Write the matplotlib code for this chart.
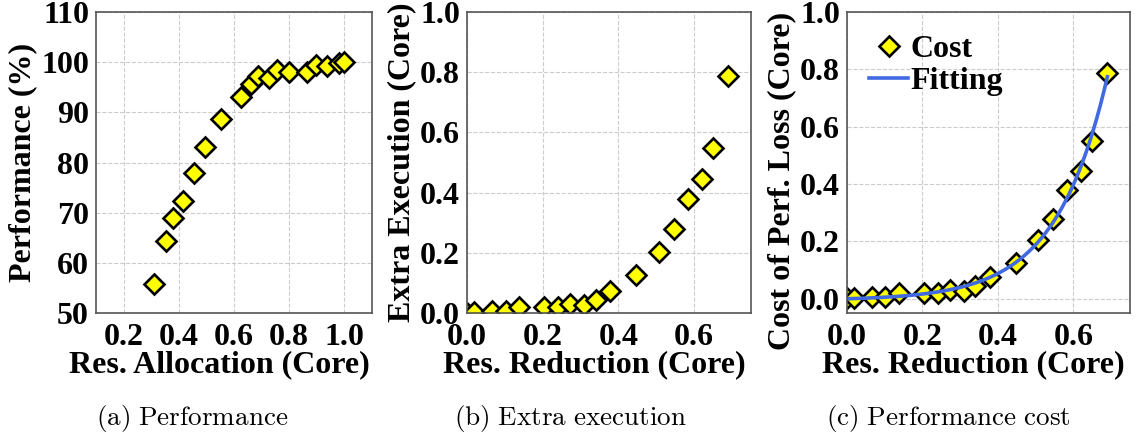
import matplotlib
matplotlib.use('Agg')
import matplotlib.pyplot as plt
import numpy as np

plt.rcParams['font.family'] = ['Liberation Serif', 'DejaVu Serif']
plt.rcParams['font.weight'] = 'bold'
plt.rcParams['axes.labelweight'] = 'bold'
plt.rcParams['mathtext.fontset'] = 'cm'

# (a) performance vs. allocated cores
alloc = [0.309, 0.355, 0.378, 0.416, 0.455, 0.495, 0.552, 0.624, 0.662, 0.688,
         0.725, 0.755, 0.798, 0.865, 0.897, 0.937, 0.982, 1.0]
perf = [55.8, 64.4, 68.9, 72.3, 78.0, 83.0, 88.6, 93.0, 95.6, 97.2,
        96.9, 98.4, 98.0, 98.0, 99.4, 99.3, 99.8, 100.0]

# (b)/(c) extra execution vs. resource reduction
reduction = [0.0, 0.019, 0.065, 0.102, 0.138, 0.203, 0.241, 0.272, 0.309, 0.340,
             0.378, 0.447, 0.506, 0.546, 0.584, 0.621, 0.649, 0.690]
extra = [0.001, 0.003, 0.005, 0.005, 0.019, 0.019, 0.019, 0.029, 0.027, 0.043,
         0.074, 0.126, 0.204, 0.278, 0.379, 0.445, 0.549, 0.787]

captions = ['(a) Performance', '(b) Extra execution', '(c) Performance cost']
caption_x = [192, 570, 948]

W, H = 1136, 438
fig = plt.figure(figsize=(W / 100, H / 100), dpi=100)

def px_axes(left, right, top, bottom):
    return fig.add_axes([left / W, (H - bottom) / H, (right - left) / W, (bottom - top) / H])

ax1 = px_axes(96, 372, 12, 313)
ax2 = px_axes(467, 751, 12, 313)
ax3 = px_axes(847, 1130, 12, 313)

mk = dict(marker='D', ms=10, mfc='yellow', mec='black', mew=1.9, ls='none')

ax1.plot(alloc, perf, **mk)
ax1.set_xlim(0.1, 1.1)
ax1.set_ylim(50, 110)
ax1.set_xticks([0.2, 0.4, 0.6, 0.8, 1.0])
ax1.set_yticks(range(50, 111, 10))
ax1.set_xlabel('Res. Allocation (Core)')
ax1.set_ylabel('Performance (%)')

ax2.plot(reduction, extra, **mk)
ax2.set_xlim(0, 0.75)
ax2.set_ylim(0, 1.0)
ax2.set_xlabel('Res. Reduction (Core)')
ax2.set_ylabel('Extra Execution (Core)')

# exponential fit y = a*exp(b*x) + c
xr = np.array(reduction)
yr = np.array(extra)
best = None
for b in np.linspace(1, 15, 561):
    A = np.column_stack([np.exp(b * xr), np.ones_like(xr)])
    coef = np.linalg.lstsq(A, yr, rcond=None)[0]
    err = np.sum((A @ coef - yr) ** 2)
    if best is None or err < best[0]:
        best = (err, b, coef)
_, b_fit, (a_fit, c_fit) = best
xs = np.linspace(0, max(reduction), 200)

ax3.plot(reduction, extra, label='Cost', **mk)
ax3.plot(xs, a_fit * np.exp(b_fit * xs) + c_fit, color='royalblue', lw=2.6, label='Fitting')
ax3.set_xlim(0, 0.75)
ax3.set_ylim(-0.05, 1.0)
ax3.set_xlabel('Res. Reduction (Core)')
ax3.set_ylabel('Cost of Perf. Loss (Core)')
ax3.legend(loc='upper left', frameon=False, prop={'size': 23, 'weight': 'bold'},
           handlelength=1.2, handletextpad=0.1, borderaxespad=0.3,
           borderpad=0.4, labelspacing=0.1)

for ax in (ax2, ax3):
    ax.set_xticks([0.0, 0.2, 0.4, 0.6])
    ax.set_yticks(np.arange(0, 1.01, 0.2))

for ax, cap, cx in zip((ax1, ax2, ax3), captions, caption_x):
    ax.grid(True, ls='--', color='#cccccc', lw=0.8)
    ax.set_axisbelow(True)
    ax.tick_params(labelsize=23, length=0)
    ax.tick_params(axis='x', pad=7)
    ax.tick_params(axis='y', pad=5)
    ax.xaxis.label.set_size(23)
    ax.yaxis.label.set_size(23)
    ax.yaxis.labelpad = 3
    for s in ax.spines.values():
        s.set_color('#555555')
        s.set_linewidth(1.2)
    for lab in ax.get_xticklabels() + ax.get_yticklabels():
        lab.set_fontweight('bold')
    # x label sits a little left of the axes centre
    w_px = ax.get_position().width * W
    ax.xaxis.set_label_coords(0.5 - 15 / w_px, -0.125)
    ax.xaxis.label.set_va('top')
    fig.text(cx / W, (H - 418) / H,
             r'$\mathrm{' + cap.replace(' ', r'\ ') + '}$',
             ha='center', va='center', fontsize=19.5)

ax3.yaxis.set_label_coords(-0.18, 0.44)

fig.savefig('out.png', dpi=100)
